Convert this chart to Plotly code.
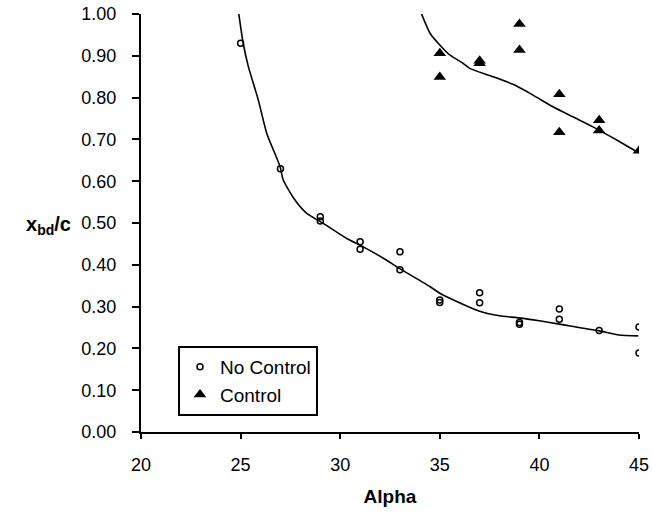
import plotly.graph_objects as go

# Measured points: x_bd/c versus Alpha
alpha_nc = [25, 27, 29, 29, 31, 31, 33, 33, 35, 35, 37, 37, 39, 39, 41, 41, 43, 45, 45]
xbd_nc = [0.93, 0.63, 0.515, 0.505, 0.455, 0.437, 0.431, 0.388, 0.316, 0.310,
          0.333, 0.309, 0.262, 0.258, 0.294, 0.270, 0.243, 0.251, 0.189]

alpha_c = [35, 35, 37, 37, 39, 39, 41, 41, 43, 43, 45]
xbd_c = [0.906, 0.849, 0.888, 0.882, 0.976, 0.914, 0.808, 0.717, 0.746, 0.721, 0.673]

# Trend curves
trend_nc_alpha = [24.88, 25.13, 25.39, 25.89, 26.31, 26.98, 27.14, 27.73, 28.32, 29.15,
                  30.33, 31.16, 32.33, 32.84, 34.5, 35.0, 35.5, 37.0, 38.0, 39.0,
                  40.0, 41.0, 43.0, 44.0, 44.96]
trend_nc_xbd = [1.01, 0.93, 0.874, 0.794, 0.715, 0.635, 0.603, 0.555, 0.523, 0.499,
                0.463, 0.443, 0.411, 0.395, 0.348, 0.332, 0.320, 0.289, 0.278, 0.273,
                0.266, 0.258, 0.242, 0.232, 0.230]

trend_c_alpha = [34.0, 34.51, 34.92, 35.5, 36.17, 36.5, 37.67, 38.76, 39.68, 40.68,
                 41.68, 42.69, 43.86, 44.87]
trend_c_xbd = [1.01, 0.954, 0.930, 0.902, 0.882, 0.870, 0.850, 0.830, 0.806, 0.778,
               0.754, 0.730, 0.699, 0.671]

x_ticks = [20, 25, 30, 35, 40, 45]
y_ticks = [0.0, 0.1, 0.2, 0.3, 0.4, 0.5, 0.6, 0.7, 0.8, 0.9, 1.0]

FONT = "Liberation Sans, Arial, sans-serif"

fig = go.Figure()

fig.add_trace(go.Scatter(
    x=trend_nc_alpha, y=trend_nc_xbd, mode="lines",
    line=dict(color="black", width=1.6, shape="spline", smoothing=0.6),
    showlegend=False, hoverinfo="skip"))
fig.add_trace(go.Scatter(
    x=trend_c_alpha, y=trend_c_xbd, mode="lines",
    line=dict(color="black", width=1.6, shape="spline", smoothing=0.6),
    showlegend=False, hoverinfo="skip"))

fig.add_trace(go.Scatter(
    x=alpha_nc, y=xbd_nc, mode="markers", name="No Control",
    marker=dict(symbol="circle-open", size=6, color="black", line=dict(width=1.5))))
fig.add_trace(go.Scatter(
    x=alpha_c, y=xbd_c, mode="markers", name="Control",
    marker=dict(symbol="triangle-up", size=11, color="black")))

fig.update_layout(
    width=652, height=517,
    margin=dict(l=141, r=13, t=14, b=85, autoexpand=False),
    paper_bgcolor="white", plot_bgcolor="white",
    font=dict(family=FONT, size=18, color="black"),
    legend=dict(
        x=0.0743, y=0.206, xanchor="left", yanchor="top",
        bgcolor="white", bordercolor="black", borderwidth=2,
        font=dict(size=19), itemwidth=30, tracegroupgap=0,
    ),
    xaxis=dict(
        range=[20, 45], tickvals=x_ticks, ticktext=[str(v) for v in x_ticks],
        showgrid=False, zeroline=False, showline=True, linecolor="black", linewidth=2,
        ticks="outside", ticklen=5, tickwidth=2, tickcolor="black",
        ticklabelstandoff=10, automargin=False,
        title=dict(text="<b>Alpha</b>", font=dict(size=19), standoff=16),
    ),
    yaxis=dict(
        range=[0, 1.0], tickvals=y_ticks, ticktext=[f"{v:.2f}" for v in y_ticks],
        showgrid=False, zeroline=False, showline=True, linecolor="black", linewidth=2,
        ticks="outside", ticklen=7, tickwidth=2, tickcolor="black",
        ticklabelstandoff=12, automargin=False,
    ),
    annotations=[dict(
        text="<b>x<sub>bd</sub>/c</b>", xref="paper", yref="paper",
        x=-0.1365, y=0.495, xanchor="right", yanchor="middle",
        showarrow=False, font=dict(size=20))],
)

fig.write_html("out.html")
